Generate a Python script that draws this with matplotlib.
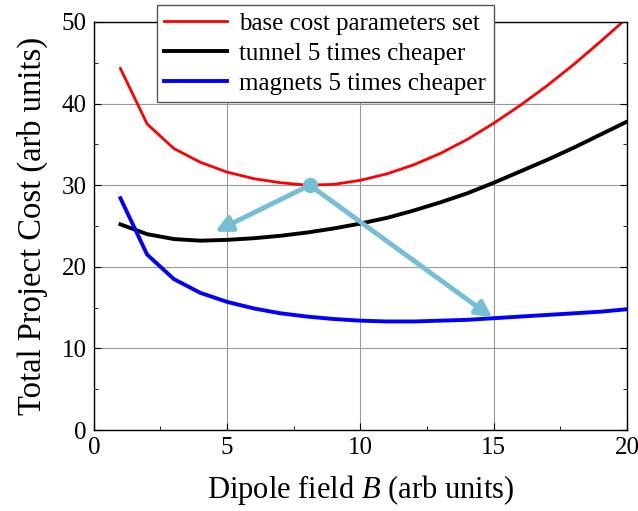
import matplotlib
matplotlib.use("Agg")
import matplotlib.pyplot as plt

plt.rcParams['font.family'] = ['Liberation Serif', 'DejaVu Serif']
plt.rcParams['mathtext.fontset'] = 'custom'
plt.rcParams['mathtext.it'] = 'Liberation Serif:italic'

field = list(range(1, 21))
base_cost = [44.3, 37.5, 34.5, 32.8, 31.6, 30.8, 30.3, 30.0, 30.1, 30.6,
             31.4, 32.5, 33.9, 35.6, 37.6, 39.8, 42.2, 44.8, 47.6, 50.5]
tunnel_cheap = [25.2, 24.0, 23.4, 23.2, 23.3, 23.5, 23.8, 24.2, 24.7, 25.3,
                26.0, 26.9, 27.9, 29.0, 30.3, 31.7, 33.1, 34.6, 36.2, 37.8]
magnet_cheap = [28.4, 21.5, 18.5, 16.8, 15.7, 14.9, 14.3, 13.9, 13.6, 13.4,
                13.3, 13.3, 13.4, 13.5, 13.7, 13.9, 14.1, 14.3, 14.5, 14.8]

# arrows from the base optimum to the two new optima
arrow_start = (8.1, 30.0)
arrow_ends = [(4.55, 24.3), (14.95, 13.75)]

fig = plt.figure(figsize=(6.38, 5.11), dpi=100)
ax = fig.add_axes([0.147, 0.1585, 0.836, 0.7985])

ax.plot(field, base_cost, color='#ff0000', lw=2.0, label='base cost parameters set')
ax.plot(field, tunnel_cheap, color='black', lw=2.8, label='tunnel 5 times cheaper')
ax.plot(field, magnet_cheap, color='#0000ff', lw=2.8, label='magnets 5 times cheaper')

arrow_col = '#74bfd6'
for end in arrow_ends:
    ax.annotate('', xy=end, xytext=arrow_start,
                arrowprops=dict(arrowstyle='-|>', color=arrow_col, lw=3.5,
                                mutation_scale=24, shrinkA=0, shrinkB=0))
ax.plot(*arrow_start, 'o', color=arrow_col, ms=10, zorder=5)

ax.set_xlim(0, 20)
ax.set_ylim(0, 50)
ax.set_xticks([0, 5, 10, 15, 20])
ax.set_xticks([2.5, 7.5, 12.5, 17.5], minor=True)
ax.set_yticks([0, 10, 20, 30, 40, 50])
ax.set_yticks([5, 15, 25, 35, 45], minor=True)
ax.tick_params(which='both', direction='in', top=False, right=True, labelsize=18)
ax.tick_params(which='major', length=5, pad=5)
ax.tick_params(which='minor', length=3)
ax.grid(True, which='major', color='#999999', lw=0.8)
for s in ax.spines.values():
    s.set_linewidth(1.0)

ax.set_xlabel('Dipole field $\\mathit{B}$ (arb units)', fontsize=22, labelpad=10)
ax.set_ylabel('Total Project Cost (arb units)', fontsize=23.5, labelpad=10)

leg = ax.legend(loc='upper left', bbox_to_anchor=(0.118, 1.042), fontsize=18,
                frameon=True, fancybox=False, edgecolor='#555555',
                framealpha=1, handlelength=2.5, handletextpad=0.5,
                borderpad=0.3, labelspacing=0.3, borderaxespad=0)
leg.get_frame().set_linewidth(1.0)
leg.set_zorder(10)

fig.savefig('out.png', dpi=100)
